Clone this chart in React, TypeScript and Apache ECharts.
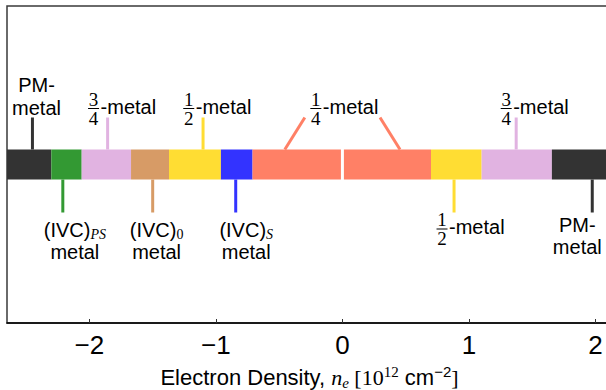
import React, { useEffect, useRef } from "react";
import * as echarts from "echarts";

// ---- data ----
const phaseEdges = [-2.65, -2.3, -2.06, -1.67, -1.37, -0.96, -0.71, 0.0, 0.7, 1.1, 1.655, 2.13];
const phaseColors = ["#333333", "#339933", "#e1b3e1", "#d79b66", "#ffdd33", "#3333ff", "#ff8066", "#ff8066", "#ffdd33", "#e1b3e1", "#333333"];
const phaseSeparators = [0];
const tickValues = [-2, -1, 0, 1, 2];

// pointers: line from the label (fromX) to the bar (toX)
const pointerToX = [-2.449, -1.855, -1.101, -0.455, 0.455, 1.373, -2.209, -1.499, -0.843, 0.882, 1.974];
const pointerFromX = [-2.449, -1.855, -1.101, -0.297, 0.297, 1.373, -2.209, -1.499, -0.843, 0.882, 1.974];
const pointerSide = ["up", "up", "up", "up", "up", "up", "down", "down", "down", "down", "down"];
const pointerColor = ["#333333", "#e1b3e1", "#ffdd33", "#ff8066", "#ff8066", "#e1b3e1", "#339933", "#d79b66", "#3333ff", "#ffdd33", "#333333"];

// labels
const labelX = [-2.417, -1.966, -1.214, -0.21, 1.294, -2.114, -1.468, -0.76, 0.787, 1.856];
const labelSide = ["up", "up", "up", "up", "up", "down", "down", "down", "down", "down"];
const labelKind = ["pm", "frac", "frac", "frac", "frac", "ivc", "ivc", "ivc", "frac", "pm"];
const labelNum = ["", "3", "1", "1", "3", "", "", "", "1", ""];
const labelDen = ["", "4", "2", "4", "4", "", "", "", "2", ""];
const labelSub = ["", "", "", "", "", "PS", "0", "S", "", ""];

const SANS = "Liberation Sans, Arial, Helvetica, sans-serif";
const SERIF = "Liberation Serif, Times New Roman, serif";

export default function App() {
  const ref = useRef<HTMLDivElement>(null);
  useEffect(() => {
    if (!ref.current) return;
    const chart = echarts.init(ref.current, undefined, { renderer: "svg" });
    const HALF = 15;

    const barData = phaseColors.map((_, i) => [phaseEdges[i], phaseEdges[i + 1]]);
    const pointerData = pointerToX.map((x, i) => [x, pointerFromX[i]]);
    const labelData = labelX.map((x) => [x, 0.5]);

    const option: any = {
      animation: false,
      grid: {
        left: 7,
        right: -6,
        top: 6,
        bottom: 67,
        show: true,
        borderColor: "#3a3a3a",
        borderWidth: 1.5,
        containLabel: false,
        outerBoundsMode: "none",
      },
      xAxis: {
        type: "value",
        min: -2.65,
        max: 2.13,
        name: "{a|Electron Density, }{i|n}{is|e}{s| [10}{sp|12}{a| cm}{ap|−2}{s|]}",
        nameLocation: "middle",
        nameGap: 41,
        nameTextStyle: {
          rich: {
            a: { fontFamily: SANS, fontSize: 22, color: "#000", lineHeight: 26 },
            i: { fontFamily: SERIF, fontStyle: "italic", fontSize: 22, color: "#000", lineHeight: 26 },
            is: { fontFamily: SERIF, fontStyle: "italic", fontSize: 15, color: "#000", lineHeight: 14, verticalAlign: "bottom" },
            s: { fontFamily: SERIF, fontSize: 22, color: "#000", lineHeight: 26 },
            sp: { fontFamily: SERIF, fontSize: 15, color: "#000", lineHeight: 14, verticalAlign: "top" },
            ap: { fontFamily: SANS, fontSize: 15, color: "#000", lineHeight: 14, verticalAlign: "top" },
          },
        },
        axisLine: { show: true, lineStyle: { color: "#000", width: 1.5 } },
        axisTick: { show: true, inside: true, length: 4, customValues: tickValues, lineStyle: { color: "#333" } },
        axisLabel: {
          customValues: tickValues,
          formatter: (v: number) => (v < 0 ? "−" + Math.abs(v) : String(v)),
          fontSize: 26,
          fontFamily: SANS,
          color: "#000",
          margin: 9,
        },
        splitLine: { show: false },
      },
      yAxis: { type: "value", min: 0, max: 1, show: false, splitLine: { show: false } },
      series: [
        {
          type: "custom",
          data: barData,
          encode: { x: [0, 1] },
          renderItem: (params: any, api: any) => {
            const i = params.dataIndex;
            const p0 = api.coord([api.value(0), 0.5]);
            const p1 = api.coord([api.value(1), 0.5]);
            return {
              type: "rect",
              shape: { x: p0[0], y: p0[1] - HALF, width: p1[0] - p0[0], height: 2 * HALF },
              style: { fill: phaseColors[i] },
            };
          },
        },
        {
          type: "custom",
          data: phaseSeparators.map((x) => [x]),
          encode: { x: 0 },
          renderItem: (params: any, api: any) => {
            const p = api.coord([api.value(0), 0.5]);
            return {
              type: "line",
              shape: { x1: p[0], y1: p[1] - HALF - 1, x2: p[0], y2: p[1] + HALF + 1 },
              style: { stroke: "#ffffff", lineWidth: 3 },
            };
          },
        },
        {
          type: "custom",
          data: pointerData,
          encode: { x: [0, 1] },
          renderItem: (params: any, api: any) => {
            const i = params.dataIndex;
            const pTo = api.coord([api.value(0), 0.5]);
            const pFrom = api.coord([api.value(1), 0.5]);
            const up = pointerSide[i] === "up";
            const yBar = up ? pTo[1] - HALF : pTo[1] + HALF;
            const yEnd = up ? yBar - 32 : yBar + 33;
            return {
              type: "line",
              shape: { x1: pFrom[0], y1: yEnd, x2: pTo[0], y2: yBar },
              style: { stroke: pointerColor[i], lineWidth: 3 },
            };
          },
        },
        {
          type: "custom",
          data: labelData,
          encode: { x: 0 },
          renderItem: (params: any, api: any) => {
            const i = params.dataIndex;
            const p = api.coord([api.value(0), 0.5]);
            const up = labelSide[i] === "up";
            const x = p[0];
            const barTop = p[1] - HALF;
            const barBot = p[1] + HALF;
            const kind = labelKind[i];
            const children: any[] = [];
            const sans = (text: string, tx: number, ty: number, align: string) => ({
              type: "text",
              x: tx,
              y: ty,
              style: { text, fill: "#000", fontFamily: SANS, fontSize: 20, align, verticalAlign: "middle" },
            });
            if (kind === "pm") {
              const y1 = up ? barTop - 65 : barBot + 45;
              const y2 = up ? barTop - 42 : barBot + 67;
              children.push(sans("PM-", x, y1, "center"));
              children.push(sans("metal", x, y2, "center"));
            } else if (kind === "frac") {
              const yb = up ? barTop - 41 : barBot + 49.5;
              children.push({
                type: "text",
                x,
                y: yb - 9.5,
                style: { text: labelNum[i], fill: "#000", fontFamily: SERIF, fontSize: 19, align: "center", verticalAlign: "middle" },
              });
              children.push({
                type: "text",
                x,
                y: yb + 9.5,
                style: { text: labelDen[i], fill: "#000", fontFamily: SERIF, fontSize: 19, align: "center", verticalAlign: "middle" },
              });
              children.push({
                type: "line",
                shape: { x1: x - 5.5, y1: yb, x2: x + 5.5, y2: yb },
                style: { stroke: "#000", lineWidth: 1 },
              });
              children.push(sans("-metal", x + 7, yb - 2, "left"));
            } else {
              const y1 = up ? barTop - 65 : barBot + 50;
              const y2 = up ? barTop - 42 : barBot + 72;
              const sub = labelSub[i];
              const isDigit = /^[0-9]+$/.test(sub);
              children.push({
                type: "text",
                x,
                y: y1,
                style: {
                  text: "{a|(IVC)}{b|" + sub + "}",
                  align: "center",
                  verticalAlign: "middle",
                  rich: {
                    a: { fontFamily: SANS, fontSize: 20, fill: "#000", lineHeight: 24 },
                    b: {
                      fontFamily: SERIF,
                      fontStyle: isDigit ? "normal" : "italic",
                      fontSize: 14,
                      fill: "#000",
                      lineHeight: 14,
                      verticalAlign: "bottom",
                    },
                  },
                },
              });
              children.push(sans("metal", x, y2, "center"));
            }
            return { type: "group", children };
          },
        },
      ],
    };
    chart.setOption(option);
    return () => chart.dispose();
  }, []);
  return (
    <div
      ref={ref}
      style={{ position: "fixed", left: 0, top: 0, width: 606, height: 390, background: "#fff" }}
    />
  );
}
